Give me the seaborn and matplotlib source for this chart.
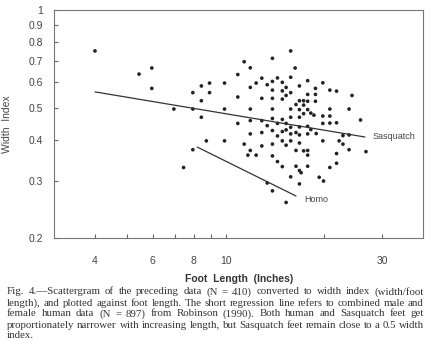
import matplotlib
matplotlib.use('Agg')
import matplotlib.pyplot as plt
import seaborn as sns
import pandas as pd
from matplotlib.ticker import FixedLocator, FixedFormatter, NullLocator

# foot length (inches) and width index
foot_length = [
    4.0, 5.45, 5.96, 5.96, 6.96, 7.95, 7.95, 8.44, 8.44, 8.44,
    8.94, 8.94, 7.45, 7.95, 8.74, 9.93, 9.93, 9.93, 10.9, 10.9,
    10.9, 11.4, 11.4, 11.7, 11.9, 11.9, 11.9, 11.9, 11.9, 11.9,
    12.4, 12.4, 12.9, 12.9, 12.9, 12.9, 12.9, 13.4, 13.4, 13.4,
    13.9, 13.9, 13.9, 13.9, 13.9, 13.9, 13.9, 13.9, 13.9, 13.9,
    14.4, 14.4, 14.4, 14.4, 14.9, 14.9, 14.9, 14.9, 14.9, 14.9,
    14.9, 15.3, 15.3, 15.3, 15.3, 15.3, 15.3, 15.8, 15.8, 15.8,
    15.8, 15.8, 15.8, 15.8, 15.8, 15.8, 16.3, 16.4, 16.4, 16.4,
    16.4, 16.8, 16.8, 16.8, 16.8, 16.8, 16.8, 16.8, 16.8, 17.0,
    16.8, 17.3, 17.3, 17.3, 17.3, 17.8, 17.8, 17.8, 17.8, 17.8,
    17.8, 17.8, 17.8, 17.8, 18.2, 18.2, 18.8, 18.8, 18.8, 18.6,
    18.9, 19.3, 19.8, 19.8, 19.8, 19.8, 19.9, 20.8, 20.8, 20.8,
    20.8, 20.8, 21.8, 21.8, 21.8, 21.8, 22.2, 22.8, 22.8, 23.8,
    23.8, 23.8, 24.3, 25.8, 26.8,
]
width_index = [
    0.749, 0.636, 0.664, 0.575, 0.497, 0.558, 0.497, 0.585, 0.527, 0.469,
    0.597, 0.558, 0.329, 0.373, 0.397, 0.597, 0.497, 0.397, 0.634, 0.541,
    0.449, 0.694, 0.388, 0.359, 0.665, 0.579, 0.497, 0.458, 0.417, 0.371,
    0.597, 0.359, 0.618, 0.536, 0.458, 0.421, 0.383, 0.590, 0.442, 0.295,
    0.711, 0.604, 0.568, 0.536, 0.497, 0.465, 0.427, 0.388, 0.357, 0.279,
    0.619, 0.449, 0.411, 0.343, 0.600, 0.565, 0.533, 0.462, 0.424, 0.397,
    0.331, 0.579, 0.547, 0.449, 0.429, 0.385, 0.257, 0.749, 0.622, 0.558,
    0.497, 0.469, 0.437, 0.417, 0.397, 0.308, 0.664, 0.513, 0.421, 0.371,
    0.332, 0.585, 0.527, 0.495, 0.469, 0.438, 0.414, 0.391, 0.322, 0.317,
    0.293, 0.527, 0.511, 0.481, 0.370, 0.607, 0.551, 0.525, 0.495, 0.440,
    0.417, 0.371, 0.359, 0.332, 0.483, 0.430, 0.575, 0.551, 0.525, 0.476,
    0.418, 0.307, 0.598, 0.473, 0.449, 0.397, 0.299, 0.568, 0.497, 0.473,
    0.450, 0.329, 0.564, 0.451, 0.363, 0.339, 0.397, 0.412, 0.388, 0.497,
    0.414, 0.373, 0.547, 0.460, 0.368,
]

# regression lines
sasquatch_x = [4.0, 26.6]
sasquatch_y = [0.561, 0.408]
homo_x = [8.2, 16.4]
homo_y = [0.380, 0.269]

y_ticks = [0.2, 0.3, 0.4, 0.5, 0.6, 0.7, 0.8, 0.9, 1.0]
y_labels = ['0.2', '0.3', '0.4', '0.5', '0.6', '0.7', '0.8', '0.9', '1']
x_ticks = [4, 5, 6, 7, 8, 9, 10, 20, 30]
x_labels = ['4', '', '6', '', '8', '', '10', '', '30']

caption = [
    'Fig. 4.\u2014Scattergram of the preceding data (N = 410) converted to width index (width/foot',
    'length), and plotted against foot length. The short regression line refers to combined male and',
    'female human data (N = 897) from Robinson (1990). Both human and Sasquatch feet get',
    'proportionately narrower with increasing length, but Sasquatch feet remain close to a 0.5 width',
    'index.',
]

df = pd.DataFrame({'Foot Length': foot_length, 'Width Index': width_index})

sns.set_style('white')
plt.rcParams['font.family'] = ['Liberation Sans', 'DejaVu Sans']

fig = plt.figure(figsize=(4.34, 3.54), dpi=100)
ax = fig.add_axes([0.1244, 0.3277, 0.8503, 0.6441])

sns.scatterplot(data=df, x='Foot Length', y='Width Index', ax=ax,
                s=7, color='#222222', edgecolor='none', linewidth=0)
ax.plot(sasquatch_x, sasquatch_y, color='#333333', lw=0.9)
ax.plot(homo_x, homo_y, color='#333333', lw=0.9)
ax.text(28.0, 0.409, 'Sasquatch', fontsize=6.5, color='#444444', va='center', ha='left')
ax.text(17.4, 0.263, 'Homo', fontsize=6.5, color='#444444', va='center', ha='left')

ax.set_xscale('log')
ax.set_yscale('log')
ax.set_xlim(3, 40)
ax.set_ylim(0.2, 1)

ax.yaxis.set_major_locator(FixedLocator(y_ticks))
ax.yaxis.set_major_formatter(FixedFormatter(y_labels))
ax.yaxis.set_minor_locator(NullLocator())
ax.xaxis.set_major_locator(FixedLocator(x_ticks))
ax.xaxis.set_major_formatter(FixedFormatter(x_labels))
ax.xaxis.set_minor_locator(NullLocator())

ax.tick_params(axis='both', direction='in', length=3, width=0.8, color='#666666',
               labelsize=7.5, labelcolor='#444444')
ax.tick_params(axis='y', pad=8, left=True)
ax.tick_params(axis='x', pad=13, bottom=True)

for sp in ax.spines.values():
    sp.set_color('#777777')
    sp.set_linewidth(0.8)

ax.set_xlabel('Foot  Length  (Inches)', fontsize=7.5, fontweight='bold', color='#333333')
ax.set_ylabel('Width  Index', fontsize=7.5, color='#444444')
ax.xaxis.set_label_coords(0.501, -0.158)
ax.yaxis.set_label_coords(-0.114, 0.5)

# justified caption
renderer = fig.canvas.get_renderer()
left, right = 7 / 434, 424 / 434
for i, line in enumerate(caption):
    y = 1 - (292 + 11 * i) / 354
    words = line.split(' ')
    texts = [fig.text(0, y, w, fontsize=7.8, family='Liberation Serif', color='#333333',
                      va='center', ha='left') for w in words]
    widths = [t.get_window_extent(renderer).width / fig.bbox.width for t in texts]
    if i == len(caption) - 1:
        gap = 0.006
    else:
        gap = (right - left - sum(widths)) / (len(words) - 1)
    x = left
    for t, w in zip(texts, widths):
        t.set_x(x)
        x += w + gap

fig.savefig('out.png', dpi=100, facecolor='white')
